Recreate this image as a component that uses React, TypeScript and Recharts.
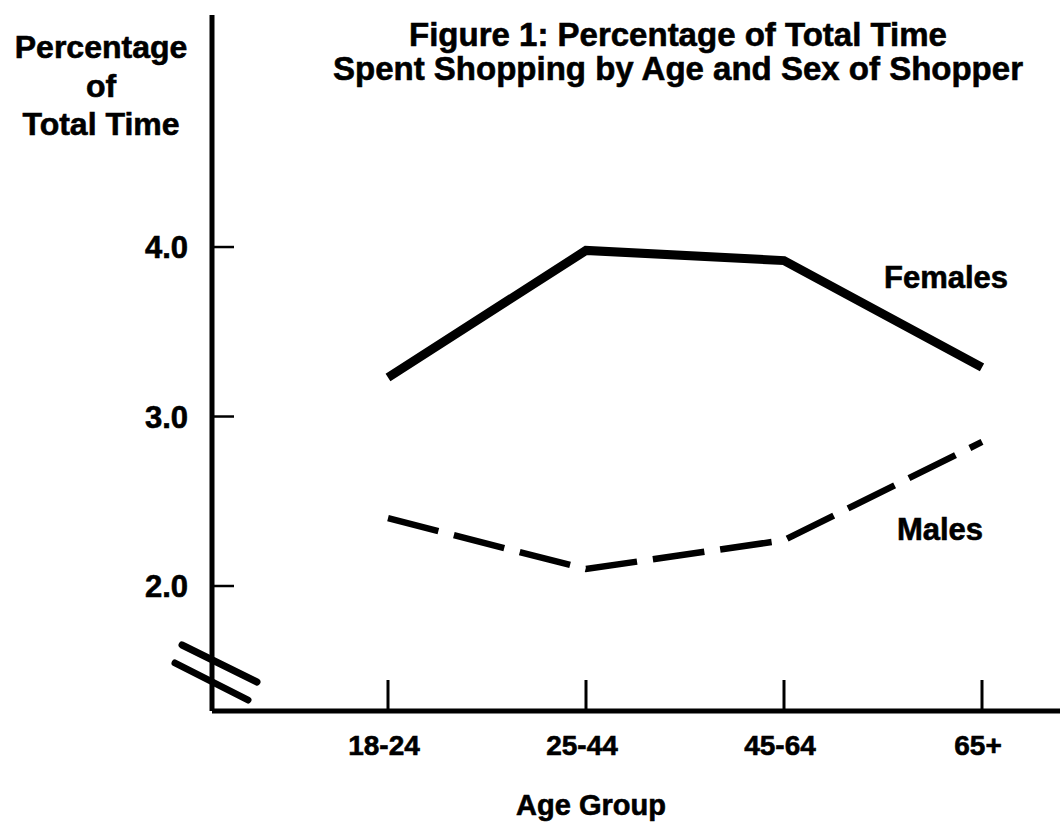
import React from 'react';
import { LineChart, Line, XAxis, YAxis, Customized } from 'recharts';

const categories = ['18-24', '25-44', '45-64', '65+'];
const females = [3.23, 3.98, 3.92, 3.29];
const males = [2.4, 2.1, 2.27, 2.85];
const yTicks = [2, 3, 4];
const titleLines = ['Figure 1: Percentage of Total Time', 'Spent Shopping by Age and Sex of Shopper'];
const yLabelLines = ['Percentage', 'of', 'Total Time'];
const xLabel = 'Age Group';
const seriesNames = ['Females', 'Males'];

const data = categories.map((c, i) => ({ cat: c, females: females[i], males: males[i] }));

const W = 1060;
const H = 829;
const FONT = '"Liberation Sans", Arial, Helvetica, sans-serif';
const MARGIN = { top: 15, right: 0, left: 152, bottom: 58 };
const YW = 60;
const XH = 60;
const AX_X = MARGIN.left + YW;
const AX_Y = H - MARGIN.bottom - XH;
const TXT = { fontFamily: FONT, fontWeight: 'bold' as const, fill: '#000', stroke: '#000', strokeWidth: 0.6 };

const XTick = (props: any) => {
  const { x, y, payload } = props;
  return (
    <g>
      <line x1={x} x2={x} y1={y} y2={y - 31} stroke="#000" strokeWidth={3} />
      <text x={x - 4} y={y + 44} textAnchor="middle" fontSize={28} {...TXT}>
        {payload.value}
      </text>
    </g>
  );
};

const YTick = (props: any) => {
  const { x, y, payload } = props;
  return (
    <g>
      <line x1={x} x2={x + 22} y1={y} y2={y} stroke="#000" strokeWidth={2.5} />
      <text x={x - 24} y={y + 11} textAnchor="end" fontSize={31} {...TXT}>
        {Number(payload.value).toFixed(1)}
      </text>
    </g>
  );
};

const Overlay = () => {
  return (
    <g>
      {titleLines.map((s, i) => (
        <text key={s} x={678} y={46 + i * 34} textAnchor="middle" fontSize={33} {...TXT}>
          {s}
        </text>
      ))}
      {yLabelLines.map((s, i) => (
        <text key={s} x={101} y={58 + i * 38.5} textAnchor="middle" fontSize={32} {...TXT}>
          {s}
        </text>
      ))}
      <text x={591} y={815} textAnchor="middle" fontSize={29} {...TXT}>
        {xLabel}
      </text>
      <text x={946} y={288} textAnchor="middle" fontSize={31} {...TXT}>
        {seriesNames[0]}
      </text>
      <text x={940} y={540} textAnchor="middle" fontSize={31} {...TXT}>
        {seriesNames[1]}
      </text>
      <line x1={AX_X - 30} y1={AX_Y - 66} x2={AX_X + 45} y2={AX_Y - 29} stroke="#000" strokeWidth={7} strokeLinecap="round" />
      <line x1={AX_X - 37} y1={AX_Y - 48} x2={AX_X + 36} y2={AX_Y - 11} stroke="#000" strokeWidth={7} strokeLinecap="round" />
    </g>
  );
};

export default function App() {
  return (
    <div style={{ position: 'absolute', left: 0, top: 0, width: W, height: H, background: '#fff' }}>
      <LineChart width={W} height={H} data={data} margin={MARGIN}>
        <XAxis
          dataKey="cat"
          height={XH}
          padding={{ left: 176, right: 78 }}
          axisLine={{ stroke: '#000', strokeWidth: 5 }}
          tickLine={false}
          tickSize={0}
          tickMargin={0}
          tick={<XTick />}
          interval={0}
        />
        <YAxis
          type="number"
          width={YW}
          domain={[1.2625, 5.369]}
          ticks={yTicks}
          allowDataOverflow
          axisLine={{ stroke: '#000', strokeWidth: 5 }}
          tickLine={false}
          tickSize={0}
          tickMargin={0}
          tick={<YTick />}
          interval={0}
        />
        <Line
          dataKey="females"
          stroke="#000"
          strokeWidth={9}
          strokeLinejoin="miter"
          dot={false}
          activeDot={false}
          isAnimationActive={false}
        />
        <Line
          dataKey="males"
          stroke="#000"
          strokeWidth={6.5}
          strokeDasharray="52 16"
          dot={false}
          activeDot={false}
          isAnimationActive={false}
        />
        <Customized component={Overlay} />
      </LineChart>
    </div>
  );
}
